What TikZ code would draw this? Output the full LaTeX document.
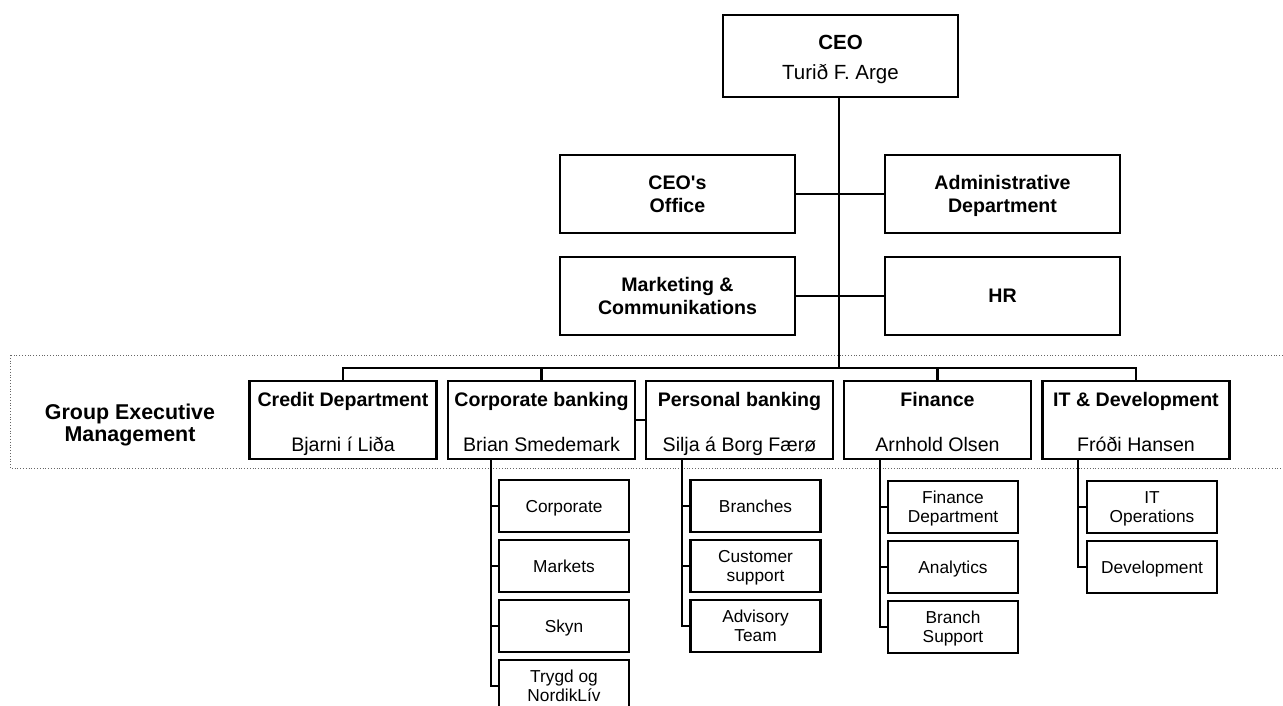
\documentclass[tikz,border=0pt]{standalone}
\usepackage{fontspec}
\setmainfont{Liberation Sans}

\begin{document}
\begin{tikzpicture}[x=1pt,y=-1pt,line width=2.2pt,
    main node/.style={draw,rectangle,inner sep=0pt,align=center,text depth=0pt,minimum width=235pt,minimum height=78pt,font=\fontsize{19.6}{23}\selectfont},
    staff node/.style={main node,font=\fontsize{19.6}{23}\selectfont\bfseries},
    exec node/.style={main node,minimum width=187pt},
    sub node/.style={main node,minimum width=130pt,minimum height=52pt,font=\fontsize{17.3}{19}\selectfont}]
      \useasboundingbox (0,0) rectangle (1283,705);
      \clip (0,0) rectangle (1283,705);

      % management band
      \draw[gray!80!black,dotted,line width=0.8pt] (10,355) rectangle (1295,468);
      \node[font=\fontsize{21.4}{22}\selectfont\bfseries,align=center] (gem) at (130,425) {Group Executive\\Management};

      \node [main node,minimum height=82pt,font=\fontsize{20.5}{23}\selectfont] (ceo) at (840.5,56) {\rule{0pt}{16pt}\textbf{CEO}\\[7pt]Turið F. Arge};

      \node [staff node] (office) at (677.5,194) {CEO\textquotesingle s\\Office};
      \node [staff node] (admin) at (1002.5,194) {Administrative\\Department};
      \node [staff node] (market) at (677.5,296) {Marketing \&\\Communikations};
      \node [staff node] (hr) at (1002.5,296) {HR};

      \foreach \name/\x/\title/\head in {credit/343/Credit Department/Bjarni í Liða,
          corp/541.5/Corporate banking/Brian Smedemark,
          pers/739.5/Personal banking/Silja á Borg Færø,
          fin/937.5/Finance/Arnhold Olsen,
          itdev/1136/IT \& Development/Fróði Hansen}
        \node [exec node] (\name) at (\x,420) {\rule{0pt}{17pt}\textbf{\title}\\[22pt]\head};

      \coordinate (bus) at (839,368);
      \draw (ceo.south -| bus) -- (bus);
      \draw (office.east) -- (admin.west);
      \draw (market.east) -- (hr.west);
      \draw (credit.north) |- (bus) -| (itdev.north);
      \draw (corp.north) -- (corp.north |- bus);
      \draw (fin.north) -- (fin.north |- bus);
      \draw (corp.east) -- (pers.west);

      % units below each division
      \foreach \i/\txt in {1/Corporate, 2/Markets, 3/Skyn, 4/{Trygd og\\NordikLív}}
        \node [sub node] (corp\i) at (564,{446+60*\i}) {\txt};
      \foreach \i/\txt in {1/Branches, 2/{Customer\\support}, 3/{Advisory\\Team}}
        \node [sub node] (pers\i) at (755.5,{446+60*\i}) {\txt};
      \foreach \i/\txt in {1/{Finance\\Department}, 2/Analytics, 3/{Branch\\Support}}
        \node [sub node] (fin\i) at (953,{447+60*\i}) {\txt};
      \foreach \i/\txt in {1/{IT\\Operations}, 2/Development}
        \node [sub node] (itdev\i) at (1152,{447+60*\i}) {\txt};

      \coordinate (corp spine) at (491,459);
      \coordinate (pers spine) at (682,459);
      \coordinate (fin spine) at (880,459);
      \coordinate (itdev spine) at (1078,459);
      \foreach \i in {1,...,4}
        \draw (corp spine) |- (corp\i.west);
      \foreach \i in {1,...,3} {
        \draw (pers spine) |- (pers\i.west);
        \draw (fin spine) |- (fin\i.west);
      }
      \foreach \i in {1,2}
        \draw (itdev spine) |- (itdev\i.west);
    \end{tikzpicture}
\end{document}
